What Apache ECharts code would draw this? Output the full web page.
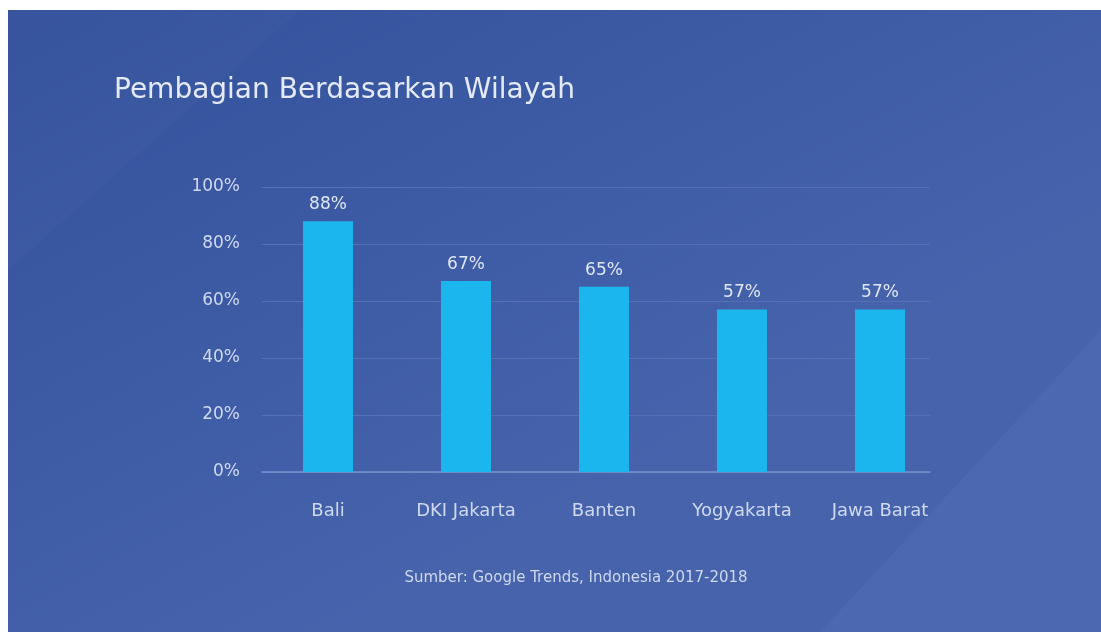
<!DOCTYPE html>
<html><head><meta charset="utf-8">
<script src="https://cdn.jsdelivr.net/npm/echarts@6/dist/echarts.min.js"></script>
<style>html,body{margin:0;padding:0;background:#fff}#c{width:1101px;height:632px}</style>
</head><body><div id="c"></div>
<script>
const categories = ['Bali', 'DKI Jakarta', 'Banten', 'Yogyakarta', 'Jawa Barat'];
const values = [88, 67, 65, 57, 57];
const yTicks = [0, 20, 40, 60, 80, 100];
const titleText = 'Pembagian Berdasarkan Wilayah';
const sourceText = 'Sumber: Google Trends, Indonesia 2017-2018';

const chart = echarts.init(document.getElementById('c'));
const FONT = '"DejaVu Sans", Verdana, sans-serif';
const TXT = '#cfd9ef';
chart.setOption({
  backgroundColor: '#ffffff',
  animation: false,
  graphic: [
    { type: 'rect', z: -10, silent: true, shape: { x: 8, y: 10, width: 1093, height: 622 },
      style: { fill: new echarts.graphic.LinearGradient(0, 0, 0.3, 1, [
        { offset: 0, color: '#33519c' }, { offset: 1, color: '#4663ac' }]) } },
    { type: 'polygon', z: -9, silent: true,
      shape: { points: [[8, 10], [8, 270], [300, 10]] },
      style: { fill: 'rgba(255,255,255,0.02)' } },
    { type: 'polygon', z: -9, silent: true,
      shape: { points: [[1101, 330], [1101, 632], [820, 632]] },
      style: { fill: 'rgba(255,255,255,0.035)' } },
    { type: 'text', left: 114, top: 77,
      style: { text: titleText, fill: '#e4eaf7', font: '400 28px ' + FONT } },
    { type: 'text', x: 576, y: 578,
      style: { text: sourceText, fill: TXT, font: '400 15px ' + FONT,
        textAlign: 'center', textVerticalAlign: 'middle' } }
  ],
  grid: [
    { left: 259, right: 152, top: 187, bottom: 160 },
    { left: 262, right: 171, top: 187, bottom: 160 }
  ],
  xAxis: [
    { type: 'category', gridIndex: 0, data: categories,
      axisLine: { show: false }, axisTick: { show: false },
      axisLabel: { color: TXT, fontFamily: FONT, fontSize: 18, margin: 30 } },
    { type: 'category', gridIndex: 1, data: categories, show: true,
      axisLine: { show: true, lineStyle: { color: '#7891cf', width: 1.5 } },
      axisTick: { show: false }, axisLabel: { show: false } }
  ],
  yAxis: [
    { type: 'value', gridIndex: 0, min: 0, max: 100, interval: 20,
      axisLine: { show: false }, axisTick: { show: false }, splitLine: { show: false },
      axisLabel: { color: TXT, fontFamily: FONT, fontSize: 17, margin: 19,
        formatter: v => yTicks.includes(v) ? v + '%' : '' } },
    { type: 'value', gridIndex: 1, min: 0, max: 100, interval: 20,
      axisLine: { show: false }, axisTick: { show: false }, axisLabel: { show: false },
      splitLine: { lineStyle: { color: '#5571b6', width: 1 } } }
  ],
  series: [{
    type: 'bar', xAxisIndex: 0, yAxisIndex: 0, data: values, barWidth: 50, z: 5,
    itemStyle: { color: '#1cb6ee' },
    label: { show: true, position: 'top', distance: 8, color: '#dfe6f5',
      fontFamily: FONT, fontSize: 17, formatter: p => p.value + '%' }
  }]
});
</script></body></html>
